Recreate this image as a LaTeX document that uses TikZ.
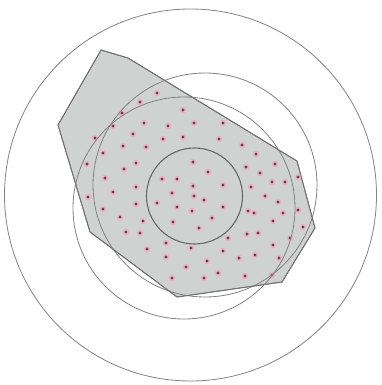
\documentclass[tikz,border=0pt]{standalone}
\definecolor{polyfill}{RGB}{206,210,208}
\definecolor{polyline}{RGB}{112,112,112}
\definecolor{ringline}{RGB}{130,130,130}
\definecolor{innerline}{RGB}{100,106,104}
\definecolor{halo}{RGB}{232,182,196}
\definecolor{core}{RGB}{112,58,76}
\tikzset{
  ring/.style={draw=ringline, line width=0.8pt},
  innerring/.style={draw=innerline, line width=1.1pt},
  hull/.style={fill=polyfill, draw=polyline, line width=0.85pt, line join=round},
  halodot/.style={fill=halo, draw=none},
  coredot/.style={fill=core, draw=none}
}
\begin{document}
\begin{tikzpicture}[x=1pt, y=-1pt]
\useasboundingbox (0,0) rectangle (381,385);
% hull polygon
\path[hull] (101,50) -- (128,58) -- (287,155) -- (297,161) -- (315,228) -- (282,282) -- (177,297) -- (90,232) -- (58,125) -- cycle;
% points
\foreach \px/\py in {
157/93, 140/102, 183/110, 122/113,
113/126, 144/123, 168/126, 194/123, 223/123,
95/138, 133/134, 163/139, 183/137, 219/139,
123/146, 146/147, 242/145,
256/154, 103/153,
87/164, 136/163, 193/162, 246/167, 275/164,
124/169,
208/172, 260/173,
105/178, 162/179, 177/179, 272/182, 285/182, 298/177,
136/187, 193/186, 223/185, 251/187,
113/192, 172/193, 194/196, 265/196,
88/197, 204/200,
136/204, 157/203, 278/202,
103/209, 177/207, 192/211, 223/207, 248/211, 298/210,
120/217, 254/213, 283/213,
143/221, 173/222, 212/218, 273/221,
126/232, 140/233, 199/228, 247/234, 258/233, 290/238, 303/227,
228/238,
166/243, 273/245,
147/249, 191/248, 223/251, 255/255, 279/258,
166/257, 239/258,
207/261,
186/267,
172/278, 204/278, 218/273, 245/276, 272/275}
{
  \path[halodot] (\px,\py) circle[radius=3.4];
  \path[coredot] (\px,\py) circle[radius=1.6];
}
% circles
\path[ring] (190.5,195) circle[radius=186];
\path[ring] (205,185) circle[radius=112];
\path[ring] (184,208) circle[radius=111];
\path[innerring] (194.5,196) circle[radius=48];
% hull outline on top
\draw[draw=polyline, line width=0.85pt, line join=round] (101,50) -- (128,58) -- (287,155) -- (297,161) -- (315,228) -- (282,282) -- (177,297) -- (90,232) -- (58,125) -- cycle;
\end{tikzpicture}
\end{document}
